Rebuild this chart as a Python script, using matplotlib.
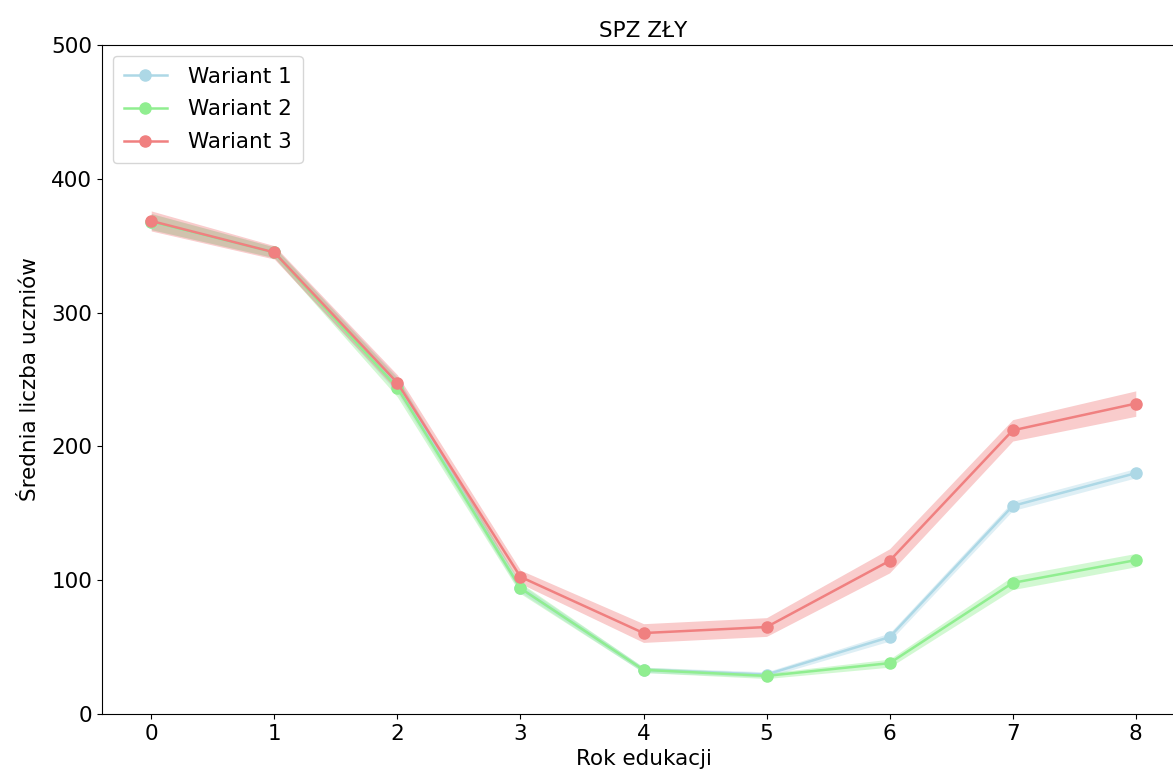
import numpy as np
import matplotlib
matplotlib.use("Agg")
import matplotlib.pyplot as plt

# dane
lata = [0, 1, 2, 3, 4, 5, 6, 7, 8]
wariant1 = [368, 345, 246, 94, 33, 29.5, 57.5, 155.5, 180]
wariant2 = [368, 345, 244, 94, 33, 28.5, 38, 98, 115]
wariant3 = [368.5, 345, 247.5, 102.5, 60.5, 65, 114.5, 212, 232]
# polowa szerokosci pasma ufnosci
blad1 = [6, 4, 6, 3, 2, 2, 3, 3.5, 3.5]
blad2 = [6, 4, 7, 4, 2, 2, 3, 5, 5]
blad3 = [7.5, 5, 6, 5, 7, 7, 9, 8, 9.5]
etykiety = ["Wariant 1", "Wariant 2", "Wariant 3"]
kolory = ["lightblue", "lightgreen", "lightcoral"]

plt.rcParams["font.size"] = 15.5

fig = plt.figure(figsize=(11.73, 7.84), dpi=100)
ax = fig.add_axes([102 / 1173, 70 / 784, 1083 / 1173, 669 / 784])

for y, err, lab, kol in zip([wariant1, wariant2, wariant3],
                            [blad1, blad2, blad3], etykiety, kolory):
    y = np.array(y)
    err = np.array(err)
    ax.fill_between(lata, y - err, y + err, color=kol, alpha=0.4, linewidth=0)
    ax.plot(lata, y, marker="o", color=kol, label=lab, linewidth=1.8, markersize=8)

ax.set_ylim(0, 500)
ax.set_xlim(-0.4, 8.4)
ax.set_xticks(lata)
ax.set_yticks([0, 100, 200, 300, 400, 500])
ax.set_title("SPZ ZŁY", fontsize=15.5)
ax.set_xlabel("Rok edukacji")
ax.set_ylabel("Średnia liczba uczniów", labelpad=8)
ax.legend(loc="upper left", labelspacing=0.6, handletextpad=1.0, borderpad=0.5)

fig.savefig("out.png", dpi=100)
